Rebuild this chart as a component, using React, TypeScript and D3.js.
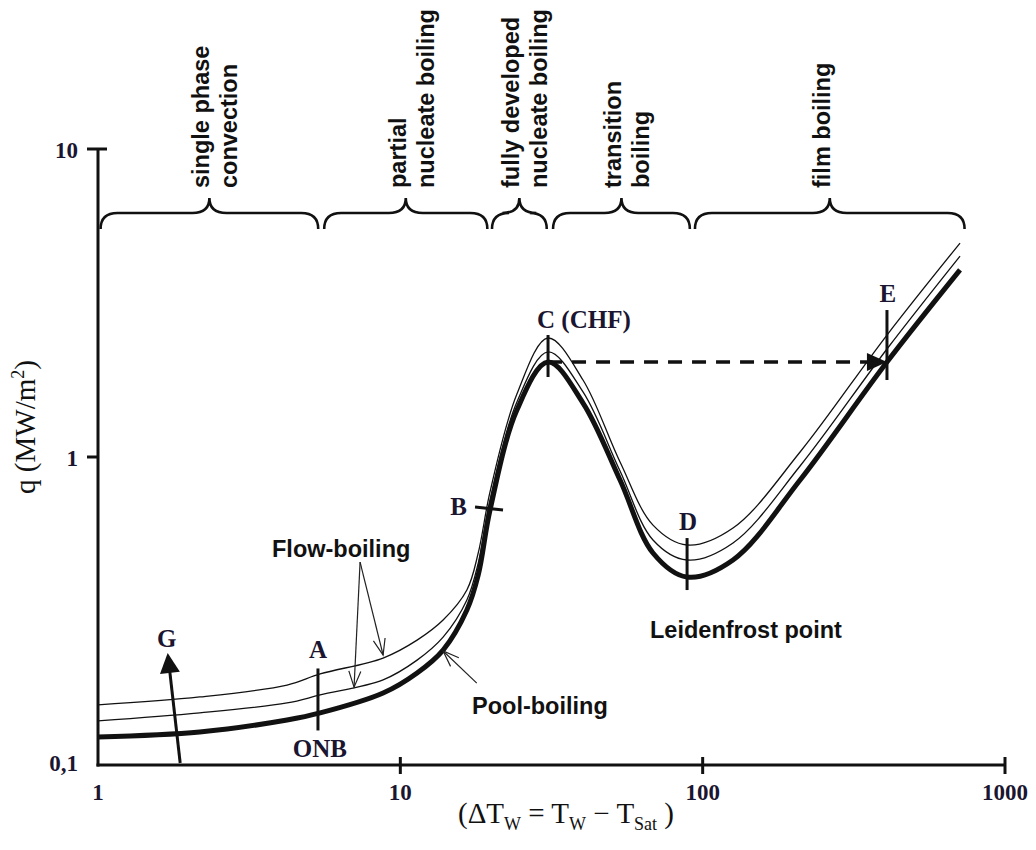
import React from 'react';
import * as d3 from 'd3';

// ---- data ----
const deltaT = [1, 2.17, 4.22, 5.43, 8.77, 11.36, 13.85, 16.6, 18.1, 19.8, 24.3, 30.8, 40.2, 53.3, 68.5, 88.8, 126, 210, 407, 710];
const poolBoiling = [0.1233, 0.128, 0.14, 0.1476, 0.1713, 0.199, 0.2362, 0.3186, 0.414, 0.6727, 1.421, 2.034, 1.497, 0.842, 0.488, 0.4076, 0.463, 0.842, 2.034, 4.05];
const flowBoilingLow = [0.139, 0.1476, 0.159, 0.1688, 0.189, 0.219, 0.26, 0.3433, 0.4526, 0.725, 1.509, 2.193, 1.626, 0.9006, 0.5377, 0.463, 0.526, 0.935, 2.242, 4.49];
const flowBoilingHigh = [0.1567, 0.1663, 0.1818, 0.1975, 0.2225, 0.2544, 0.2956, 0.37, 0.488, 0.77, 1.601, 2.434, 1.778, 0.963, 0.601, 0.518, 0.588, 1.038, 2.489, 4.95];

const xTicks = [1, 10, 100, 1000];
const xTickLabels = ['1', '10', '100', '1000'];
const yTicks = [0.1, 1, 10];
const yTickLabels = ['0,1', '1', '10'];

const regionNames = [
  ['single phase', 'convection'],
  ['partial', 'nucleate boiling'],
  ['fully developed', 'nucleate boiling'],
  ['transition', 'boiling'],
  ['film boiling'],
];
const regionFrom = [1.02, 5.6, 20.1, 32, 94.3];
const regionTo = [5.35, 19.4, 30.5, 90.7, 735];

const pointLabels = ['A', 'B', 'C', 'D', 'E'];
const pointDT = [5.34, 19.8, 30.8, 88.8, 407];
const pointQ = [0.147, 0.6727, 2.034, 0.4076, 2.034];

// annotation arrows (data space): [fromDT, fromQ, toDT, toQ]
const flowArrows = [
  [7.36, 0.456, 7.03, 0.179],
  [7.36, 0.456, 8.77, 0.2276],
];
const poolArrow = [17.9, 0.1845, 13.85, 0.2345];
const gArrow = [1.87, 0.1015, 1.7, 0.231];

const W = 1036;
const H = 850;

const x = d3.scaleLog().domain([1, 1000]).range([98, 1005]);
const y = d3.scaleLog().domain([0.1, 10]).range([765, 149]);

const SANS = '"Liberation Sans", Arial, sans-serif';
const SERIF = '"Liberation Serif", "Times New Roman", serif';
const INK = '#111';

function head(x1: number, y1: number, x2: number, y2: number, len: number, half: number) {
  const a = Math.atan2(y2 - y1, x2 - x1);
  const bx = x2 - len * Math.cos(a);
  const by = y2 - len * Math.sin(a);
  const px = -Math.sin(a) * half;
  const py = Math.cos(a) * half;
  return [
    [bx + px, by + py],
    [x2, y2],
    [bx - px, by - py],
  ];
}

function bracePath(x0: number, x1: number) {
  const yEnd = 229;
  const yLine = 213;
  const yTip = 198;
  const r = 17;
  const m = (x0 + x1) / 2;
  return [
    `M${x0},${yEnd}`,
    `Q${x0},${yLine} ${x0 + r},${yLine}`,
    `L${m - r},${yLine}`,
    `Q${m},${yLine} ${m},${yTip}`,
    `Q${m},${yLine} ${m + r},${yLine}`,
    `L${x1 - r},${yLine}`,
    `Q${x1},${yLine} ${x1},${yEnd}`,
  ].join(' ');
}

export default function App() {
  const line = d3
    .line<number>()
    .x((_, i) => x(deltaT[i]))
    .y((d) => y(d))
    .curve(d3.curveCatmullRom.alpha(0.5));

  const pts = pointLabels.map((l, i) => ({ l, px: x(pointDT[i]), py: y(pointQ[i]) }));
  const [A, B, C, D, E] = pts;

  const gx1 = x(gArrow[0]), gy1 = y(gArrow[1]), gx2 = x(gArrow[2]), gy2 = y(gArrow[3]);
  const gHead = head(gx1, gy1, gx2, gy2, 20, 10);
  const gl = Math.hypot(gx1 - gx2, gy1 - gy2);
  const gShaftEnd = [gx2 + (gx1 - gx2) * 18 / gl, gy2 + (gy1 - gy2) * 18 / gl];

  const dashHead = head(C.px, C.py, E.px, E.py, 20, 9);

  return (
    <svg
      width={W}
      height={H}
      style={{ position: 'absolute', left: 0, top: 0, background: '#fff' }}
      xmlns="http://www.w3.org/2000/svg"
    >
      <rect width={W} height={H} fill="#fff" />

      {/* braces and region labels */}
      {regionNames.map((lines, i) => {
        const x0 = x(regionFrom[i]);
        const x1 = x(regionTo[i]);
        const m = (x0 + x1) / 2;
        return (
          <g key={i}>
            <path d={bracePath(x0, x1)} fill="none" stroke={INK} strokeWidth={2.6} />
            {lines.map((t, j) => (
              <text
                key={j}
                transform={`translate(${m + j * 28},188) rotate(-90)`}
                fontFamily={SANS}
                fontWeight="bold"
                fontSize={23.5}
                fill={INK}
              >
                {t}
              </text>
            ))}
          </g>
        );
      })}

      {/* axes */}
      <line x1={x(1)} y1={y(10)} x2={x(1)} y2={y(0.1) + 1.5} stroke={INK} strokeWidth={3} />
      <line x1={x(1) - 1.5} y1={y(0.1)} x2={x(1000)} y2={y(0.1)} stroke={INK} strokeWidth={3} />
      {yTicks.map((t) =>
        t === 0.1 ? null : (
          <line key={t} x1={x(1) - 11} x2={t === 10 ? x(1) + 9 : x(1)} y1={y(t)} y2={y(t)} stroke={INK} strokeWidth={3} />
        )
      )}
      {yTicks.map((t, i) => (
        <text
          key={'yl' + t}
          x={78}
          y={y(t) + (t === 0.1 ? 6 : 9)}
          textAnchor="end"
          fontFamily={SERIF}
          fontWeight="bold"
          fontSize={23}
          fill="#1a1530"
        >
          {yTickLabels[i]}
        </text>
      ))}
      {xTicks.map((t) =>
        t === 1 ? null : (
          <line key={'xt' + t} x1={x(t)} x2={x(t)} y1={y(0.1) - 8} y2={y(0.1) + 9} stroke={INK} strokeWidth={3} />
        )
      )}
      {xTicks.map((t, i) => (
        <text
          key={'xl' + t}
          x={x(t)}
          y={800}
          textAnchor="middle"
          fontFamily={SERIF}
          fontWeight="bold"
          fontSize={23}
          fill="#1a1530"
        >
          {xTickLabels[i]}
        </text>
      ))}

      {/* axis titles */}
      <text
        transform={`translate(35,427) rotate(-90)`}
        textAnchor="middle"
        fontFamily={SERIF}
        fontSize={29}
        fill={INK}
      >
        q (MW/m
        <tspan fontSize={18} dy={-11}>2</tspan>
        <tspan dy={11}>)</tspan>
      </text>
      <text x={566} y={823} textAnchor="middle" fontFamily={SERIF} fontSize={29} fill={INK}>
        (ΔT<tspan fontSize={18} dy={7}>W</tspan>
        <tspan dy={-7}> = T</tspan>
        <tspan fontSize={18} dy={7}>W</tspan>
        <tspan dy={-7}> − T</tspan>
        <tspan fontSize={18} dy={7}>Sat</tspan>
        <tspan dy={-7}> )</tspan>
      </text>

      {/* curves */}
      <path d={line(flowBoilingHigh) || ''} fill="none" stroke={INK} strokeWidth={1.3} />
      <path d={line(flowBoilingLow) || ''} fill="none" stroke={INK} strokeWidth={1.3} />
      <path d={line(poolBoiling) || ''} fill="none" stroke={INK} strokeWidth={5} />

      {/* dashed CHF -> film boiling jump */}
      <line x1={C.px} y1={C.py} x2={E.px - 18} y2={E.py} stroke={INK} strokeWidth={3.5} strokeDasharray="14 10" />
      <polygon points={dashHead.map((p) => p.join(',')).join(' ')} fill={INK} />

      {/* point markers */}
      <line x1={A.px} x2={A.px} y1={A.py - 45} y2={A.py + 17} stroke={INK} strokeWidth={3} />
      <line x1={B.px - 15} x2={B.px + 13} y1={B.py - 3} y2={B.py} stroke={INK} strokeWidth={3} />
      <line x1={C.px} x2={C.px} y1={C.py - 27} y2={C.py + 15} stroke={INK} strokeWidth={3} />
      <line x1={D.px} x2={D.px} y1={D.py - 39} y2={D.py + 13} stroke={INK} strokeWidth={3} />
      <line x1={E.px} x2={E.px} y1={E.py - 52} y2={E.py + 18} stroke={INK} strokeWidth={3} />

      <g fontFamily={SERIF} fontWeight="bold" fontSize={25} fill="#1a1530">
        <text x={A.px} y={A.py - 55} textAnchor="middle">A</text>
        <text x={A.px + 2} y={A.py + 44} textAnchor="middle">ONB</text>
        <text x={B.px - 23} y={B.py + 5} textAnchor="end">B</text>
        <text x={C.px - 11} y={C.py - 34}>C (CHF)</text>
        <text x={D.px + 1} y={D.py - 47} textAnchor="middle">D</text>
        <text x={E.px + 1} y={E.py - 60} textAnchor="middle">E</text>
        <text x={gx2 - 1} y={gy2 - 6} textAnchor="middle">G</text>
      </g>

      {/* G arrow */}
      <line x1={gx1} y1={gy1} x2={gShaftEnd[0]} y2={gShaftEnd[1]} stroke={INK} strokeWidth={3} />
      <polygon points={gHead.map((p) => p.join(',')).join(' ')} fill={INK} />

      {/* flow-boiling / pool-boiling pointers */}
      {flowArrows.map((a, i) => {
        const x1 = x(a[0]), y1 = y(a[1]), x2 = x(a[2]), y2 = y(a[3]);
        const h = head(x1, y1, x2, y2, 16, 6);
        return (
          <g key={'fa' + i} fill="none" stroke="#222" strokeWidth={1.2}>
            <line x1={x1} y1={y1} x2={x2} y2={y2} />
            <polyline points={h.map((p) => p.join(',')).join(' ')} />
          </g>
        );
      })}
      {(() => {
        const x1 = x(poolArrow[0]), y1 = y(poolArrow[1]), x2 = x(poolArrow[2]), y2 = y(poolArrow[3]);
        const h = head(x1, y1, x2, y2, 16, 6);
        return (
          <g fill="none" stroke="#222" strokeWidth={1.2}>
            <line x1={x1} y1={y1} x2={x2} y2={y2} />
            <polyline points={h.map((p) => p.join(',')).join(' ')} />
          </g>
        );
      })()}

      <g fontFamily={SANS} fontWeight="bold" fontSize={23.5} fill={INK}>
        <text x={272} y={557}>Flow-boiling</text>
        <text x={472} y={714}>Pool-boiling</text>
        <text x={650} y={638}>Leidenfrost point</text>
      </g>
    </svg>
  );
}
